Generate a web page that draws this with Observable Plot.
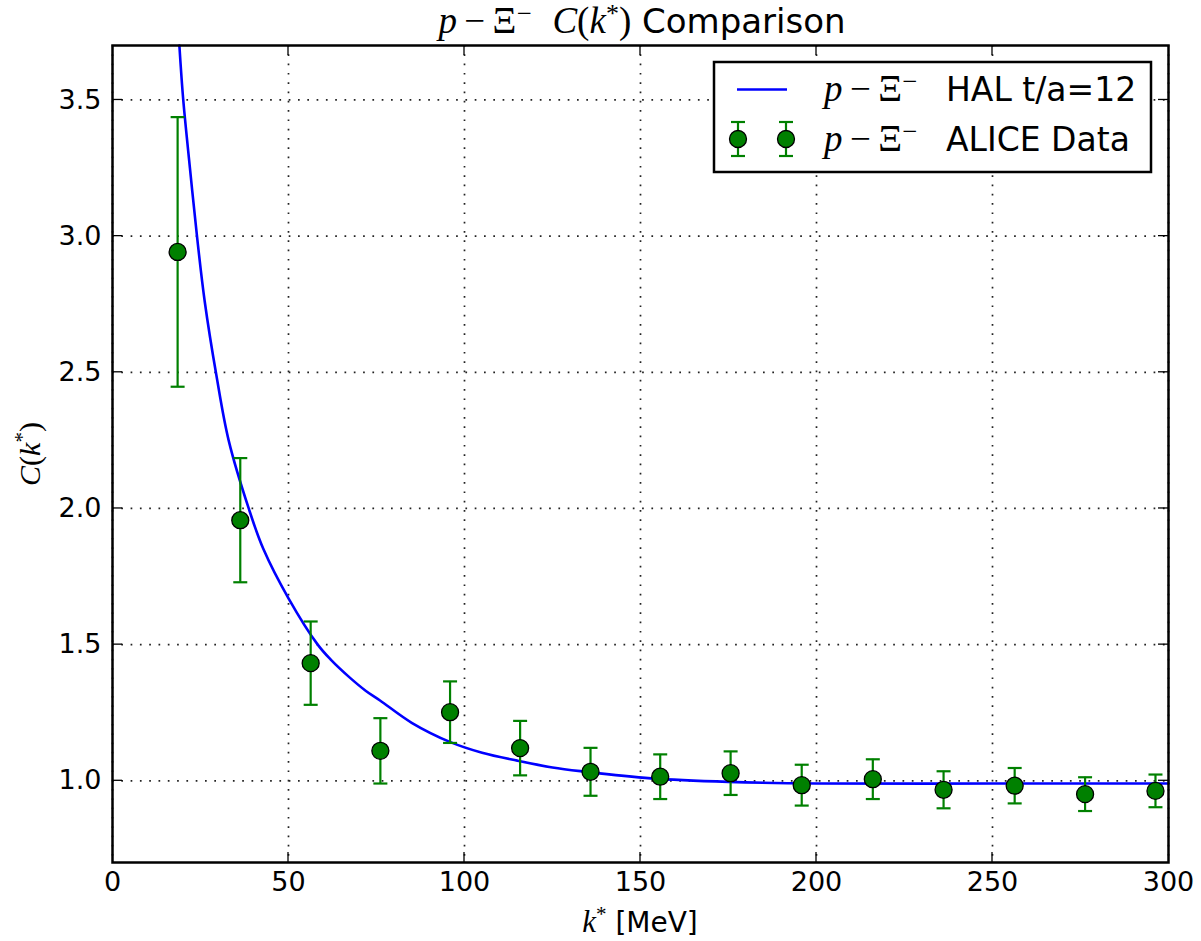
<!DOCTYPE html>
<html>
<head>
<meta charset="utf-8">
<script src="https://cdn.jsdelivr.net/npm/d3@7"></script>
<script src="https://cdn.jsdelivr.net/npm/@observablehq/plot@0.6"></script>
<style>
  html, body { margin: 0; padding: 0; background: #fff; }
  #chart svg { display: block; }
</style>
</head>
<body>
<div id="chart"></div>
<script>
// ALICE data points
const kData   = [18.5, 36.3, 56.3, 76.1, 95.9, 115.8, 135.8, 155.6, 175.6, 195.8, 216.0, 236.1, 256.3, 276.3, 296.3];
const cData   = [2.942, 1.957, 1.432, 1.110, 1.252, 1.120, 1.033, 1.015, 1.028, 0.984, 1.006, 0.967, 0.982, 0.951, 0.963];
const errData = [0.495, 0.228, 0.153, 0.120, 0.113, 0.100, 0.088, 0.082, 0.080, 0.075, 0.073, 0.068, 0.065, 0.062, 0.060];

// HAL t/a=12 curve
const halK = [19.0, 20.1, 22.0, 24.0, 26.2, 29.5, 33.0, 38.7, 42.9, 50.0, 58.3, 62.0, 67.5, 72.0, 76.0, 85.0, 96.0, 105.0, 115.0, 125.0, 134.0, 153.0, 175.0, 200.0, 250.0, 300.0];
const halC = [3.70, 3.50, 3.25, 3.00, 2.76, 2.49, 2.25, 2.00, 1.85, 1.67, 1.50, 1.445, 1.378, 1.33, 1.295, 1.213, 1.142, 1.103, 1.074, 1.049, 1.034, 1.009, 0.996, 0.990, 0.990, 0.990];

// axis ticks
const xTicks = [0, 50, 100, 150, 200, 250, 300];
const yTicks = [1.0, 1.5, 2.0, 2.5, 3.0, 3.5];

const points = kData.map((k, i) => ({k, c: cData[i], lo: cData[i] - errData[i], hi: cData[i] + errData[i]}));
const curve = halK.map((k, i) => ({k, c: halC[i]}));

const GREEN = "#008000";
const BLUE = "#0000ff";
const capSymbol = {
  draw(context, size) {
    const r = Math.sqrt(size / Math.PI);
    context.moveTo(-r, 0);
    context.lineTo(r, 0);
  }
};

const plot = Plot.plot({
  width: 1201,
  height: 941,
  marginTop: 45,
  marginBottom: 79,
  marginLeft: 112,
  marginRight: 33,
  style: {fontFamily: "'DejaVu Sans', sans-serif", fontSize: "27px", color: "black", background: "white"},
  x: {domain: [0, 300]},
  y: {domain: [0.7, 3.7]},
  marks: [
    Plot.gridX(xTicks, {stroke: "#222", strokeOpacity: 1, strokeWidth: 1.7, strokeDasharray: "1.7,7.6"}),
    Plot.gridY(yTicks, {stroke: "#222", strokeOpacity: 1, strokeWidth: 1.7, strokeDasharray: "1.7,7.6"}),
    Plot.axisX(xTicks, {tickSize: 0, tickPadding: 9, label: null, tickFormat: d => String(d)}),
    Plot.axisY(yTicks, {tickSize: 0, tickPadding: 11, label: null, tickFormat: d => d.toFixed(1)}),
    Plot.line(curve, {x: "k", y: "c", stroke: BLUE, strokeWidth: 2.6, curve: "catmull-rom"}),
    Plot.ruleX(points, {x: "k", y1: "lo", y2: "hi", stroke: GREEN, strokeWidth: 2.2}),
    Plot.dot(points, {x: "k", y: "lo", symbol: capSymbol, r: 7, stroke: GREEN, strokeWidth: 2.2}),
    Plot.dot(points, {x: "k", y: "hi", symbol: capSymbol, r: 7, stroke: GREEN, strokeWidth: 2.2}),
    Plot.dot(points, {x: "k", y: "c", r: 8.5, fill: GREEN, stroke: "black", strokeWidth: 1.3}),
    Plot.frame({stroke: "black", strokeWidth: 2.5})
  ]
});

document.getElementById("chart").appendChild(plot);

// post-processing: inward ticks, title, labels, legend
const svg = d3.select(plot);
const xs = plot.scale("x"), ys = plot.scale("y");
const L = 112, R = 1168, T = 45, B = 862, TL = 10;
const tg = svg.append("g").attr("stroke", "black").attr("stroke-width", 1.3);
xTicks.forEach(v => {
  const px = xs.apply(v);
  if (v === 0 || v === 300) return;
  tg.append("line").attr("x1", px).attr("x2", px).attr("y1", B).attr("y2", B - TL);
  tg.append("line").attr("x1", px).attr("x2", px).attr("y1", T).attr("y2", T + TL);
});
yTicks.forEach(v => {
  const py = ys.apply(v);
  tg.append("line").attr("x1", L).attr("x2", L + TL).attr("y1", py).attr("y2", py);
  tg.append("line").attr("x1", R).attr("x2", R - TL).attr("y1", py).attr("y2", py);
});

const SERIF = "'Liberation Serif', 'DejaVu Serif', serif";
const SANS = "'DejaVu Sans', sans-serif";

function mathPXi(textEl, size) {
  textEl.append("tspan").attr("font-family", SERIF).attr("font-style", "italic").attr("font-size", size).text("p");
  textEl.append("tspan").attr("font-family", SERIF).attr("font-size", size).text("\u2009\u2212\u2009");
  textEl.append("tspan").attr("font-family", SERIF).attr("font-size", size).text("\u039E");
  textEl.append("tspan").attr("font-family", SERIF).attr("font-size", size * 0.72).attr("dy", -size * 0.3).text("\u2212");
  textEl.append("tspan").attr("font-size", size).attr("dy", size * 0.3).text("\u00A0");
}

// title
const title = svg.append("text").attr("x", 642).attr("y", 33).attr("text-anchor", "middle")
  .attr("font-family", SANS).attr("font-size", 34).attr("fill", "black");
mathPXi(title, 37);
title.append("tspan").attr("font-family", SERIF).attr("font-size", 37).text("\u00A0");
title.append("tspan").attr("font-family", SERIF).attr("font-style", "italic").attr("font-size", 37).text("C");
title.append("tspan").attr("font-family", SERIF).attr("font-size", 37).text("(");
title.append("tspan").attr("font-family", SERIF).attr("font-style", "italic").attr("font-size", 37).text("k");
title.append("tspan").attr("font-family", SERIF).attr("font-size", 26).attr("dy", -11).text("*");
title.append("tspan").attr("font-family", SERIF).attr("font-size", 37).attr("dy", 11).text(")");
title.append("tspan").attr("font-family", SANS).attr("font-size", 34).text(" Comparison");

// x label
const xl = svg.append("text").attr("x", 640).attr("y", 932).attr("text-anchor", "middle")
  .attr("font-family", SANS).attr("font-size", 28).attr("fill", "black");
xl.append("tspan").attr("font-family", SERIF).attr("font-style", "italic").attr("font-size", 31).text("k");
xl.append("tspan").attr("font-family", SERIF).attr("font-size", 21).attr("dy", -11).text("*");
xl.append("tspan").attr("dy", 11).text(" [MeV]");

// y label
const yl = svg.append("text").attr("transform", "translate(40,454) rotate(-90)").attr("text-anchor", "middle")
  .attr("font-family", SERIF).attr("font-size", 30).attr("fill", "black");
yl.append("tspan").attr("font-style", "italic").text("C");
yl.append("tspan").text("(");
yl.append("tspan").attr("font-style", "italic").text("k");
yl.append("tspan").attr("font-size", 21).attr("dy", -11).text("*");
yl.append("tspan").attr("dy", 11).text(")");

// legend
const lg = svg.append("g");
lg.append("rect").attr("x", 714).attr("y", 62).attr("width", 437).attr("height", 110)
  .attr("fill", "white").attr("stroke", "black").attr("stroke-width", 2.5);
lg.append("line").attr("x1", 737).attr("x2", 787).attr("y1", 89.5).attr("y2", 89.5)
  .attr("stroke", BLUE).attr("stroke-width", 2.6);
[738, 786].forEach(cx => {
  lg.append("line").attr("x1", cx).attr("x2", cx).attr("y1", 122).attr("y2", 156).attr("stroke", GREEN).attr("stroke-width", 2.2);
  lg.append("line").attr("x1", cx - 7).attr("x2", cx + 7).attr("y1", 122).attr("y2", 122).attr("stroke", GREEN).attr("stroke-width", 2.2);
  lg.append("line").attr("x1", cx - 7).attr("x2", cx + 7).attr("y1", 156).attr("y2", 156).attr("stroke", GREEN).attr("stroke-width", 2.2);
  lg.append("circle").attr("cx", cx).attr("cy", 139).attr("r", 8.5).attr("fill", GREEN).attr("stroke", "black").attr("stroke-width", 1.3);
});
const legendRows = [["HAL t/a=12", 101], ["ALICE Data", 151]];
legendRows.forEach(([label, y]) => {
  const t = lg.append("text").attr("x", 824).attr("y", y).attr("text-anchor", "start")
    .attr("font-family", SANS).attr("font-size", 33).attr("fill", "black");
  mathPXi(t, 37);
  t.append("tspan").attr("x", 946).attr("dy", 0).attr("font-family", SANS).attr("font-size", 33).text(label);
});
</script>
</body>
</html>
